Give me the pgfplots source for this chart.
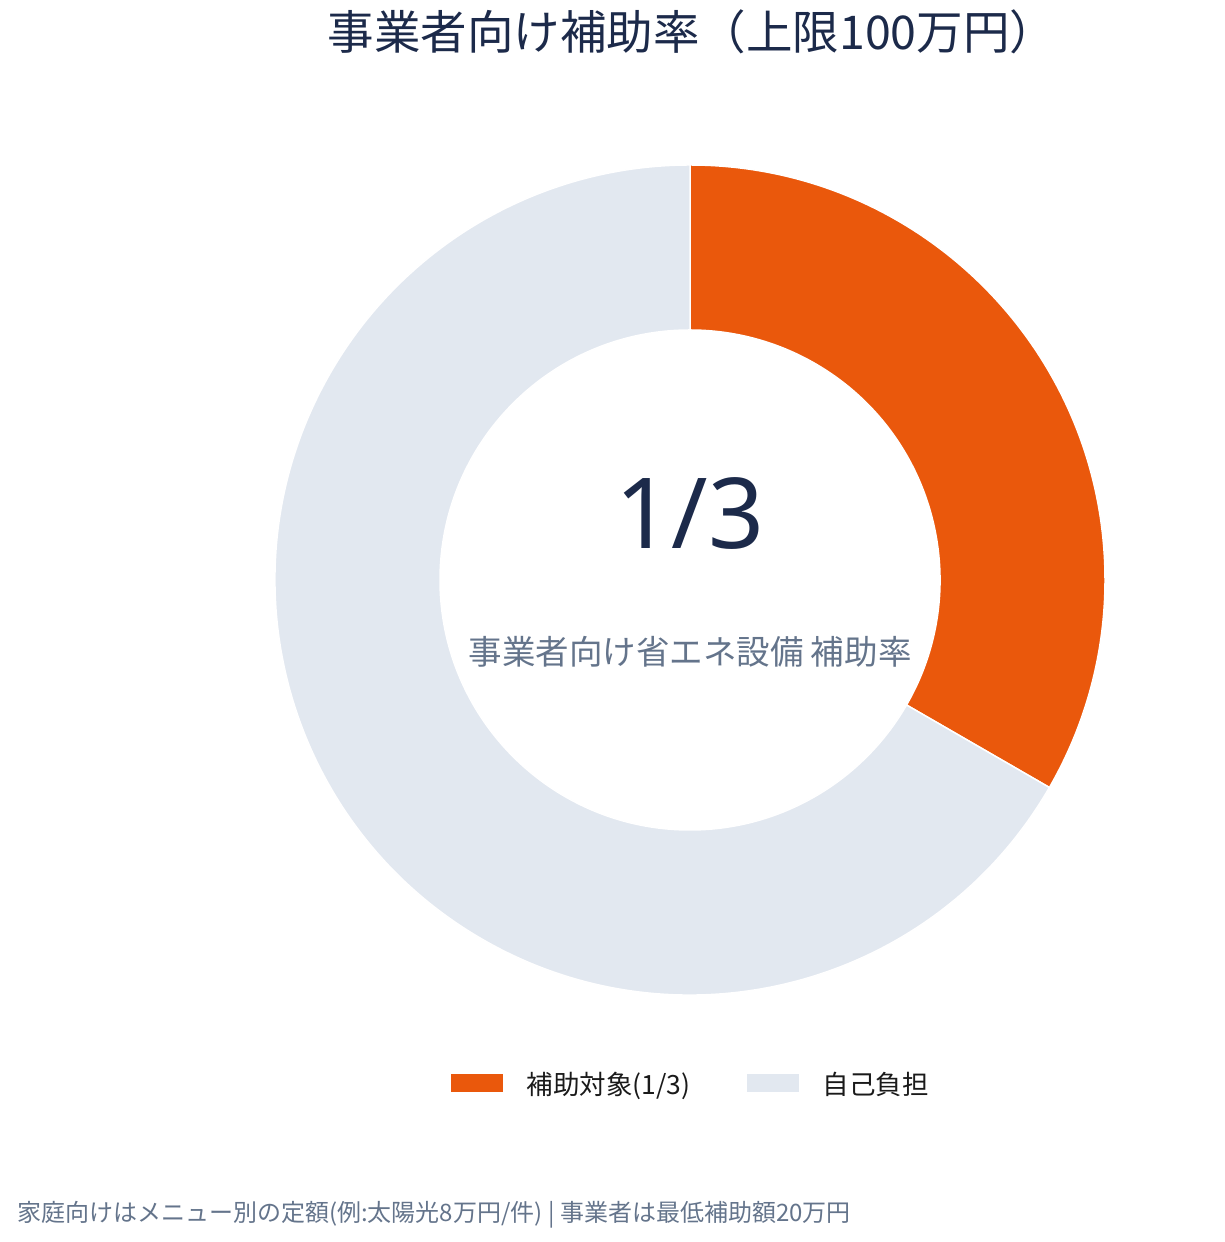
\documentclass[border=0pt]{standalone}
\usepackage{fontspec}
\setmainfont{Noto Sans CJK JP}
\newfontfamily\latinfont{Noto Sans}
\usepackage{pgfplots}
\usepackage{pgfplotstable}
\pgfplotsset{compat=1.18}

\definecolor{hojo}{HTML}{EA580C}
\definecolor{jiko}{HTML}{E2E8F0}
\definecolor{navy}{HTML}{1C2A4A}
\definecolor{slate}{HTML}{64748B}
\definecolor{legtext}{HTML}{1A1A1A}

% share of the cost: subsidy 1, own burden 2
\pgfplotstableread{
part value
hojo 1
jiko 2
}\donut

\pgfplotstablegetelem{0}{value}\of\donut \let\va\pgfplotsretval
\pgfplotstablegetelem{1}{value}\of\donut \let\vb\pgfplotsretval
\pgfmathsetmacro{\angA}{90-360*\va/(\va+\vb)}
\pgfmathsetmacro{\angB}{\angA-360*\vb/(\va+\vb)}

\def\Ro{415pt}
\def\Ri{250pt}

\begin{document}
\begin{tikzpicture}
\begin{axis}[
    x=1pt, y=1pt,
    xmin=0, xmax=1225, ymin=0, ymax=1242,
    hide axis, clip=false,
    legend columns=2,
    legend style={
      at={(axis cs:690,159)}, anchor=center,
      draw=none, fill=none,
      font=\fontsize{26.5}{30}\selectfont\color{legtext},
      /tikz/every even column/.append style={column sep=57pt},
      nodes={inner sep=0pt, text depth=0pt},
    },
    legend image code/.code={\fill[#1] (0pt,-8.5pt) rectangle (51pt,8.5pt);},
    legend cell align=left,
  ]
  \path (axis cs:0,0) rectangle (axis cs:1225,1242);
  \coordinate (C) at (axis cs:690,662);

  \addlegendimage{hojo}
  \addlegendentry{\hspace{24pt}補助対象(1/3)}
  \addlegendimage{jiko}
  \addlegendentry{\hspace{24pt}自己負担}

  \node[navy, font=\fontsize{46.5}{52}\selectfont] at (axis cs:692,1210) {事業者向け補助率（上限100万円）};
  \node[slate, anchor=west, inner sep=0pt, font=\fontsize{24}{26}\selectfont] at (axis cs:17,27)
    {家庭向けはメニュー別の定額(例:太陽光8万円/件) | 事業者は最低補助額20万円};
\end{axis}

\fill[hojo, draw=white, line width=1.5pt]
  ([shift={(90:\Ro)}]C) arc[start angle=90, end angle=\angA, radius=\Ro]
  -- ([shift={(\angA:\Ri)}]C) arc[start angle=\angA, end angle=90, radius=\Ri] -- cycle;
\fill[jiko, draw=white, line width=1.5pt]
  ([shift={(\angA:\Ro)}]C) arc[start angle=\angA, end angle=\angB, radius=\Ro]
  -- ([shift={(\angB:\Ri)}]C) arc[start angle=\angB, end angle=\angA, radius=\Ri] -- cycle;

\node[navy, font=\latinfont\fontsize{98}{100}\selectfont] at ([yshift=66pt]C) {1/3};
\node[slate, font=\fontsize{33.5}{38}\selectfont] at ([yshift=-72pt]C) {事業者向け省エネ設備 補助率};
\end{tikzpicture}
\end{document}
